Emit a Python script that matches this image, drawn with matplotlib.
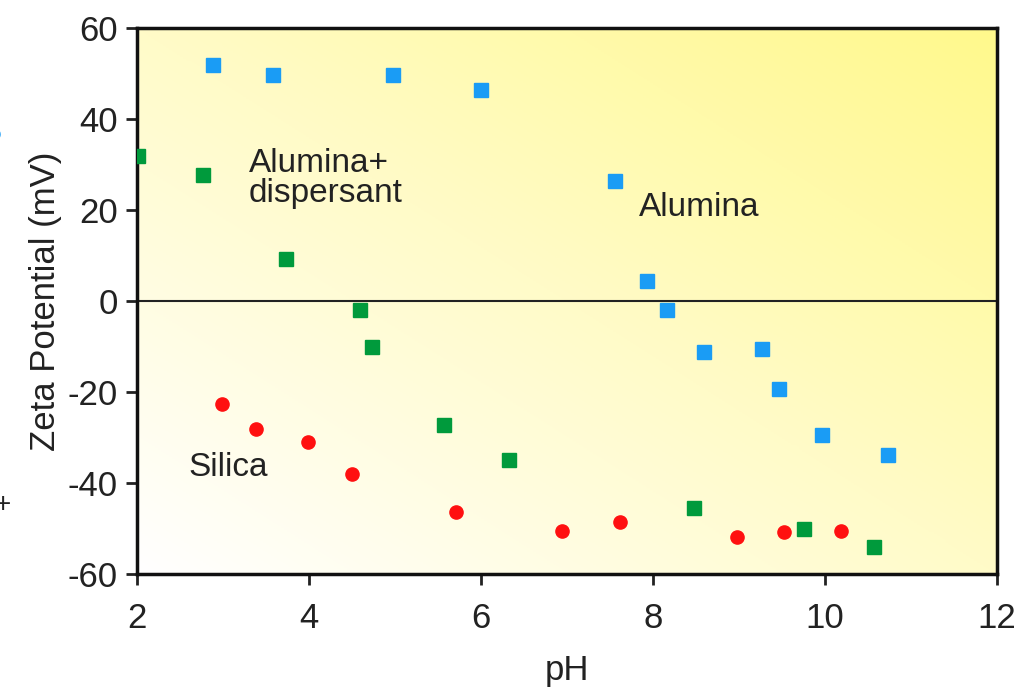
import numpy as np
import matplotlib
matplotlib.use('Agg')
import matplotlib.pyplot as plt
from matplotlib.colors import LinearSegmentedColormap

# data
alumina_ph = [2.88, 3.58, 4.98, 6.0, 7.56, 7.93, 8.17, 8.6, 9.27, 9.47, 9.97, 10.74]
alumina_zeta = [51.9, 49.7, 49.7, 46.4, 26.4, 4.4, -2.0, -11.2, -10.5, -19.3, -29.5, -33.8]

disp_ph = [2.01, 2.77, 3.73, 4.59, 4.73, 5.57, 6.33, 8.48, 9.76, 10.57]
disp_zeta = [31.9, 27.7, 9.2, -2.0, -10.1, -27.3, -35.0, -45.5, -50.1, -54.1]

silica_ph = [2.99, 3.38, 3.99, 4.5, 5.71, 6.94, 7.62, 8.98, 9.53, 10.19]
silica_zeta = [-22.6, -28.1, -31.0, -38.0, -46.4, -50.5, -48.6, -51.9, -50.8, -50.5]

plt.rcParams['font.family'] = ['Liberation Sans', 'DejaVu Sans']
plt.rcParams['axes.unicode_minus'] = False

fig = plt.figure(figsize=(10.15, 6.92), dpi=100)
ax = fig.add_axes([0.135, 0.1705, 0.847, 0.789])

# diagonal white -> yellow background
u, v = np.meshgrid(np.linspace(0, 1, 300), np.linspace(0, 1, 300))
grad = (u + v) / 2
cmap = LinearSegmentedColormap.from_list('wy', ['#ffffff', '#fffbc8', '#fff98c'])
ax.imshow(grad, extent=[0, 1, 0, 1], origin='lower', transform=ax.transAxes,
          cmap=cmap, aspect='auto', zorder=0)

ax.axhline(0, color='#222222', lw=1.5, zorder=1)

ax.plot(alumina_ph, alumina_zeta, 's', color='#1a9cf5', ms=10, zorder=3)
ax.plot(disp_ph, disp_zeta, 's', color='#009a3c', ms=10, zorder=3)
ax.plot(silica_ph, silica_zeta, 'o', color='#ff1010', ms=9.5, zorder=3)

ax.text(3.3, 27, 'Alumina+\ndispersant', fontsize=24, color='#222222',
        ha='left', va='center', linespacing=0.95)
ax.text(7.84, 20.5, 'Alumina', fontsize=24, color='#222222', ha='left', va='center')
ax.text(2.6, -36.5, 'Silica', fontsize=24, color='#222222', ha='left', va='center')

ax.set_xlim(2, 12)
ax.set_ylim(-60, 60)
ax.set_xticks([2, 4, 6, 8, 10, 12])
ax.set_yticks([-60, -40, -20, 0, 20, 40, 60])
ax.tick_params(direction='out', length=8, width=2, labelsize=25, colors='#222222', pad=6)
ax.tick_params(axis='x', pad=12)
for s in ax.spines.values():
    s.set_linewidth(2.5)
    s.set_color('#111111')

ax.set_xlabel('pH', fontsize=25, color='#222222', labelpad=14)
ax.set_ylabel('Zeta Potential (mV)', fontsize=25, color='#222222', labelpad=4)

# cropped legend leftovers at the left edge
fig.text(-0.006, 0.805, '\u25cf', color='#1a9cf5', fontsize=22, ha='center', va='center')
fig.text(0.003, 0.27, '+', color='#222222', fontsize=20, ha='center', va='center')

fig.savefig('out.png', dpi=100)
